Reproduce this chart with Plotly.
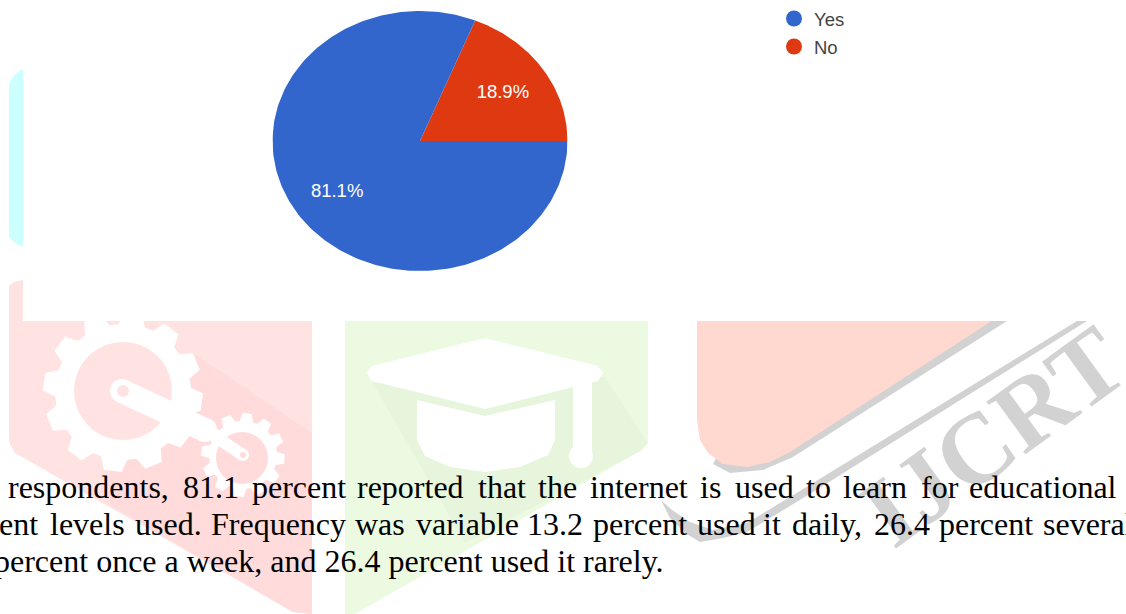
import numpy as np
import plotly.graph_objects as go

# Survey answers
answers = ["Yes", "No"]
shares = [81.1, 18.9]
slice_colors = ["#3366cc", "#df3912"]

# Paragraph set below the chart, justified word by word
line_one_words = ["respondents,", "81.1", "percent", "reported", "that", "the", "internet",
                  "is", "used", "to", "learn", "for", "educational"]
line_one_left = [8, 183, 252, 357, 478, 538, 590, 700, 735, 806, 843, 921, 969]
line_two_words = ["ent", "levels", "used.", "Frequency", "was", "variable", "13.2", "percent",
                  "used", "it", "daily,", "26.4", "percent", "several"]
line_two_left = [-1, 50, 135, 211, 355, 416, 527, 593, 697, 763, 792, 874, 939, 1043]
line_three = "percent once a week, and 26.4 percent used it rarely."

W, H = 1126, 614
SERIF = "Liberation Serif, Times New Roman, serif"
SANS = "Liberation Sans, Arial, sans-serif"


def fx(x):
    return x / W


def fy(y):
    return 1 - y / H


def poly_path(points):
    return "M" + " L".join(f"{fx(x):.5f},{fy(y):.5f}" for x, y in points) + " Z"


def polygon(points, color):
    return dict(type="path", xref="paper", yref="paper", path=poly_path(points),
                fillcolor=color, layer="below", line=dict(color=color, width=0))


def disc(cx, cy, r, color):
    return dict(type="circle", xref="paper", yref="paper", fillcolor=color, layer="below",
                x0=fx(cx - r), x1=fx(cx + r), y0=fy(cy + r), y1=fy(cy - r),
                line=dict(width=0))


def gear(cx, cy, r_body, r_tooth, teeth, color, phase=0.0):
    pts = []
    step = 2 * np.pi / teeth
    for i in range(teeth):
        a = phase + i * step
        for da, r in [(-0.30, r_body), (-0.17, r_tooth), (0.17, r_tooth), (0.30, r_body)]:
            ang = a + da * step * 1.25
            pts.append((cx + r * np.cos(ang), cy + r * np.sin(ang)))
    return polygon(pts, color)


def capsule(x0, y0, x1, y1, width, color):
    dx, dy = x1 - x0, y1 - y0
    n = np.hypot(dx, dy)
    ox, oy = -dy / n * width / 2, dx / n * width / 2
    return [polygon([(x0 + ox, y0 + oy), (x1 + ox, y1 + oy), (x1 - ox, y1 - oy), (x0 - ox, y0 - oy)], color),
            disc(x0, y0, width / 2, color), disc(x1, y1, width / 2, color)]


RED, RED_DARK = "#ffe3e3", "#ffdbdb"
GREEN, GREEN_DARK = "#edfae2", "#e6f5dc"
SALMON, GREY = "#ffd9d0", "#d2d2d2"
WHITE = "#ffffff"

shapes = []
# Cyan sliver at the far left
shapes.append(polygon([(9, 84), (12, 78), (18, 72), (23, 69), (23, 246), (18, 245), (12, 240), (9, 237)], "#ccffff"))

# Red shield with its gears
shapes.append(polygon([(9, 286), (14, 282), (23, 280), (312, 280), (312, 614), (293, 612), (15, 453), (9, 442)], RED))
shapes.append(polygon([(193, 353), (312, 433), (312, 614), (293, 612), (110, 505), (110, 440)], RED_DARK))
shapes.append(gear(123, 392, 68, 80, 12, WHITE, phase=0.13))
shapes.append(disc(123, 391, 49, RED))
shapes.append(gear(243, 455, 34, 42, 12, WHITE, phase=0.1))
shapes.append(disc(242, 458, 26, RED_DARK))
shapes += capsule(122, 391, 205, 430, 24, WHITE)
shapes += capsule(205, 430, 243, 455, 12, WHITE)
shapes.append(disc(123, 391, 6, RED))
shapes.append(disc(243, 455, 3, RED_DARK))

# Green shield with the mortarboard
shapes.append(polygon([(345, 280), (648, 280), (648, 443), (642, 450), (355, 614), (345, 614)], GREEN))
shapes.append(polygon([(372, 382), (465, 543), (642, 450), (648, 443), (605, 377)], GREEN_DARK))
shapes.append(polygon([(367, 373), (372, 366), (485, 338), (598, 366), (603, 373), (598, 381), (485, 409), (372, 381)], WHITE))
shapes.append(polygon([(417, 400), (485, 416), (555, 400), (555, 440), (548, 455), (520, 467), (485, 472),
                       (450, 467), (425, 456), (417, 440)], WHITE))
shapes.append(polygon([(573, 388), (592, 380), (592, 457), (573, 457)], WHITE))
shapes.append(disc(581, 456, 12, WHITE))

# Salmon shield, with the grey swoosh below it
shapes.append(polygon([(1077, 321), (1087, 321), (813, 492), (747, 532), (723, 538), (700, 542), (685, 533),
                       (670, 518), (661, 500), (672, 510), (690, 522), (713, 530), (747, 523), (813, 483)], GREY))
shapes.append(polygon([(990, 321), (1007, 321), (793, 457), (763, 470), (730, 473), (713, 464), (720, 450)], GREY))
shapes.append(polygon([(697, 280), (990, 280), (990, 322), (790, 452), (770, 462), (747, 467), (723, 464),
                       (708, 453), (700, 440), (697, 420)], SALMON))

# Blank panel the chart sits on
shapes.append(dict(type="rect", xref="paper", yref="paper", layer="below", fillcolor=WHITE,
                   x0=fx(23), x1=1, y0=fy(321), y1=1, line=dict(width=0)))

fig = go.Figure()

# Slices end at three o'clock, running clockwise through Yes
angle = 0.0
label_x, label_y, label_text = [], [], []
for answer, share, color in zip(reversed(answers), reversed(shares), reversed(slice_colors)):
    sweep = 2 * np.pi * share / sum(shares)
    theta = np.linspace(angle, angle + sweep, 240)
    fig.add_trace(go.Scatter(
        x=np.r_[0, np.cos(theta), 0], y=np.r_[0, np.sin(theta), 0],
        mode="lines", fill="toself", fillcolor=color, line=dict(width=0, color=color),
        name=answer, showlegend=False, hoverinfo="name"))
    middle = angle + sweep / 2
    label_x.append(0.678 * np.cos(middle))
    label_y.append(0.678 * np.sin(middle) - 0.015)
    label_text.append(f"{share:.1f}%")
    angle += sweep

fig.add_trace(go.Scatter(x=label_x, y=label_y, text=label_text, mode="text", showlegend=False,
                         textfont=dict(family=SANS, size=18.5, color="#ffffff"), hoverinfo="skip"))

# One legend per answer so that the row spacing can be set freely
for i, (answer, color) in enumerate(zip(answers, slice_colors)):
    fig.add_trace(go.Scatter(x=[None], y=[None], mode="markers", name=answer,
                             marker=dict(color=color, size=19, symbol="circle"),
                             legend="legend" if i == 0 else "legend2"))

legend_style = dict(xanchor="left", yanchor="middle", bgcolor="rgba(0,0,0,0)", itemsizing="trace",
                    font=dict(family=SANS, size=18.5, color="#444444"), x=fx(774))

annotations = [dict(text="<b>IJCRT</b>", xref="paper", yref="paper", x=fx(993), y=fy(436),
                    xanchor="center", yanchor="middle", showarrow=False, textangle=-36,
                    font=dict(family=SERIF, size=100, color=GREY))]


def body_word(text, left, center_y):
    return dict(text=text, xref="paper", yref="paper", x=fx(left), y=fy(center_y), xanchor="left",
                yanchor="middle", showarrow=False, borderpad=0, borderwidth=0,
                font=dict(family=SERIF, size=32, color="#000000"))


for word, left in zip(line_one_words, line_one_left):
    annotations.append(body_word(word, left, 486.5))
for word, left in zip(line_two_words, line_two_left):
    annotations.append(body_word(word, left, 523.5))
annotations.append(body_word(line_three, -6, 561))

fig.update_layout(
    width=W, height=H, margin=dict(l=0, r=0, t=0, b=0),
    paper_bgcolor=WHITE, plot_bgcolor="rgba(0,0,0,0)",
    xaxis=dict(domain=[fx(272.5), fx(567.5)], range=[-1, 1], visible=False, fixedrange=True),
    yaxis=dict(domain=[fy(271), fy(11)], range=[-1, 1], visible=False, fixedrange=True),
    legend=dict(y=fy(19), **legend_style),
    legend2=dict(y=fy(47), **legend_style),
    shapes=shapes, annotations=annotations,
)

fig.write_html("out.html", config=dict(displayModeBar=False))
